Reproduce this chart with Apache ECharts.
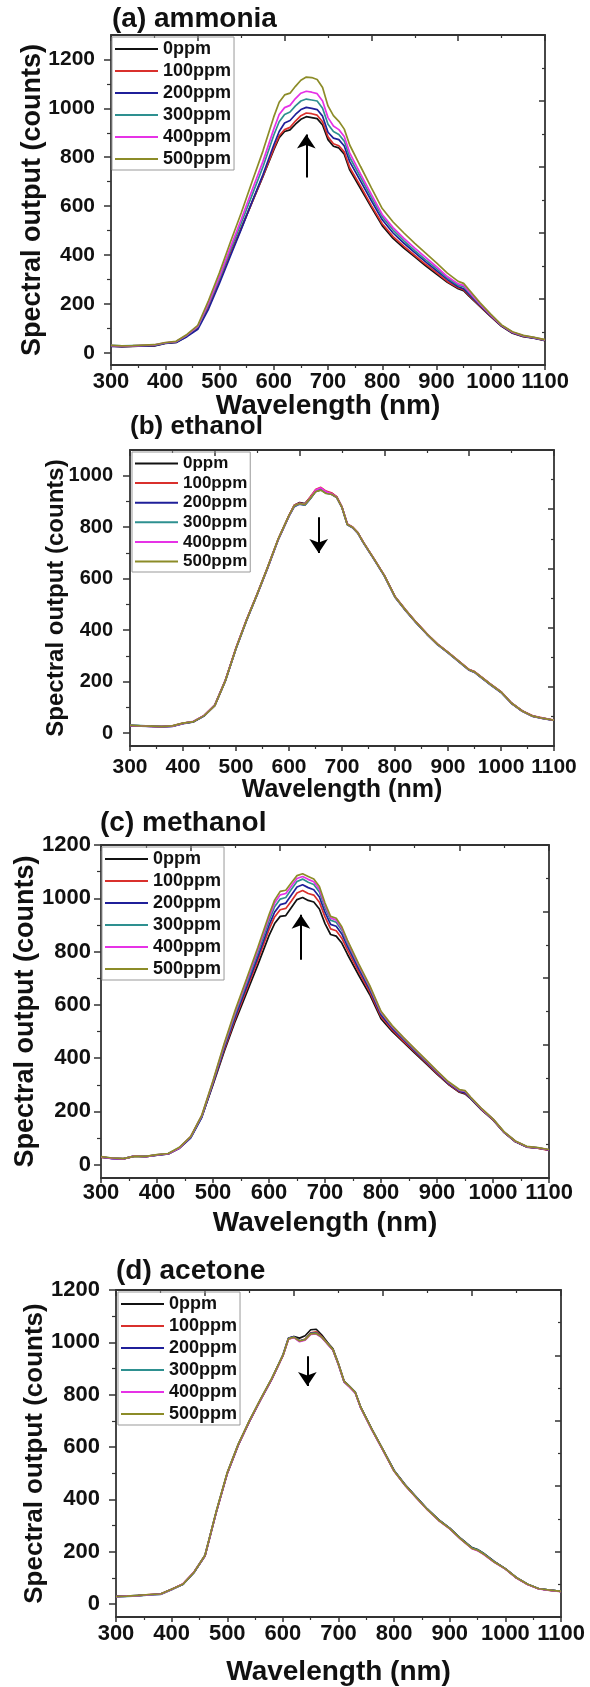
<!DOCTYPE html>
<html>
<head>
<meta charset="utf-8">
<title>Spectral output</title>
<script src="https://cdn.jsdelivr.net/npm/echarts@6/dist/echarts.min.js"></script>
<style>
html, body { margin: 0; padding: 0; background: #fff; }
#chart { width: 590px; height: 1687px; }
</style>
</head>
<body>
<div id="chart"></div>
<script>
// wavelength grid (nm), shared by every panel
var wavelength = [300,320,340,360,380,400,420,440,460,480,500,520,540,560,580,600,610,620,630,640,650,660,670,680,690,700,710,720,730,740,760,780,800,820,840,860,880,900,920,940,950,960,980,1000,1020,1040,1060,1080,1100];
var ppmNames = ["0ppm", "100ppm", "200ppm", "300ppm", "400ppm", "500ppm"];
var ppmColors = ["#111111", "#d9302c", "#1f1f99", "#2e9090", "#e632e6", "#8c8c28"];

// y tick labels
var yMajor1200 = [0, 200, 400, 600, 800, 1000, 1200];
var yMinor1200 = [100, 300, 500, 700, 900, 1100];
var yMajor1000 = [0, 200, 400, 600, 800, 1000];
var yMinor1000 = [100, 300, 500, 700, 900];

// (a) ammonia
var amm0   = [28,25,26,28,28,38,42,68,102,195,300,405,510,615,720,830,880,905,912,935,955,966,962,958,932,872,845,838,812,748,672,595,520,468,428,392,356,322,288,262,254,232,190,148,108,80,66,60,50];
var amm100 = [27,26,27,29,30,40,44,70,104,192,298,402,508,615,722,835,888,913,922,948,970,981,978,972,945,884,855,847,822,758,682,602,528,475,435,398,362,328,292,266,258,236,192,150,110,82,67,61,51];
var amm200 = [26,25,27,28,29,39,42,66,96,180,285,395,505,618,728,850,905,940,950,975,995,1004,1000,995,968,902,878,872,846,782,702,622,544,490,448,410,372,336,300,270,262,240,195,152,110,82,68,60,52];
var amm300 = [30,28,29,30,31,40,45,72,106,200,305,420,530,645,760,890,945,975,985,1010,1030,1038,1034,1030,1000,935,905,893,866,800,718,636,556,502,458,418,380,344,306,276,270,246,198,154,112,84,69,62,52];
var amm400 = [29,27,28,30,32,41,46,73,108,205,312,430,545,665,782,915,975,1003,1012,1040,1062,1070,1066,1060,1030,962,928,913,885,818,732,648,566,512,468,428,390,352,312,282,276,250,200,155,112,84,70,62,53];
var amm500 = [30,28,29,31,33,42,47,75,112,215,328,452,572,700,825,965,1025,1055,1062,1090,1115,1128,1126,1118,1085,1010,970,947,915,850,762,675,590,535,490,448,408,368,326,292,284,258,205,158,114,86,71,63,54];
var arrowAmmonia = [660, 717, 893];

// (b) ethanol
var eth0   = [30,28,26,25,27,38,45,68,108,205,330,440,540,645,755,845,885,896,892,915,942,950,936,932,918,878,812,800,778,742,678,612,530,478,430,386,346,314,280,246,238,222,190,160,116,86,66,57,50];
var eth100 = [29,27,27,26,28,39,44,69,110,206,332,441,541,646,756,846,886,893,890,917,946,955,940,934,919,879,813,801,779,743,679,613,531,479,431,387,347,315,281,247,239,223,191,161,117,87,67,58,51];
var eth200 = [28,27,26,24,26,37,44,67,107,203,328,438,538,643,753,843,880,890,886,910,938,946,933,928,915,876,810,798,776,740,676,610,528,476,428,384,344,312,278,244,236,220,188,158,115,85,65,56,49];
var eth300 = [31,29,27,26,27,38,45,68,109,204,329,439,539,644,754,844,882,891,887,911,939,945,932,929,916,877,811,799,777,741,677,611,529,477,429,385,345,313,279,245,237,221,189,159,116,86,66,57,50];
var eth400 = [29,28,26,25,27,38,46,69,108,205,331,441,540,645,755,845,884,893,889,914,944,953,938,931,917,878,812,800,778,742,678,612,530,478,430,386,346,314,280,246,238,222,190,160,116,86,66,57,50];
var eth500 = [30,28,27,25,28,39,45,68,107,204,330,440,540,646,756,846,884,892,888,912,938,944,931,928,916,877,811,800,778,742,678,612,530,478,430,386,346,314,280,246,238,222,190,160,116,86,66,57,50];
var arrowEthanol = [656, 839, 700];

// (c) methanol
var meth0   = [28,24,22,32,30,36,40,62,102,180,300,425,540,645,750,860,905,932,935,965,995,1003,992,986,960,905,864,858,832,790,712,638,548,500,460,420,380,340,302,272,266,248,205,168,120,86,66,62,55];
var meth100 = [27,25,23,31,31,37,41,63,104,182,305,432,550,658,768,882,930,957,962,990,1020,1029,1018,1012,985,930,885,878,850,806,725,648,556,506,464,424,384,343,304,274,268,250,206,169,121,87,67,62,54];
var meth200 = [29,23,22,33,30,36,40,62,100,178,305,438,558,668,780,898,948,976,982,1012,1042,1051,1040,1032,1005,948,902,895,866,820,736,657,563,512,470,428,388,346,306,276,270,250,207,170,121,87,67,63,55];
var meth300 = [28,25,23,32,31,37,42,64,103,182,310,445,568,680,795,915,968,997,1003,1034,1063,1072,1060,1052,1024,965,918,910,880,832,746,664,570,517,474,432,391,349,309,279,275,252,208,171,122,88,68,63,56];
var meth400 = [29,24,22,33,30,37,41,63,104,184,312,450,575,690,806,928,982,1013,1018,1046,1074,1082,1071,1062,1034,974,926,918,887,838,750,668,573,519,476,434,392,350,310,280,276,253,209,171,122,88,68,63,56];
var meth500 = [30,25,23,32,31,38,42,65,105,186,315,455,582,698,815,938,993,1026,1030,1058,1085,1092,1082,1072,1044,982,932,925,893,843,755,672,576,522,478,436,394,352,312,282,278,254,210,172,123,89,69,64,57];
var arrowMethanol = [657, 769, 938];

// (d) acetone
var ace0   = [28,30,32,35,37,55,75,120,185,350,500,610,700,782,860,950,1015,1022,1016,1025,1048,1050,1028,1000,975,918,852,832,810,752,668,590,510,455,408,362,322,290,250,215,208,195,162,135,100,75,58,53,48];
var ace100 = [29,31,32,36,38,56,76,121,183,348,498,608,698,780,858,948,1012,1020,1005,1012,1036,1040,1022,996,972,915,850,830,808,750,666,588,508,453,406,360,320,288,248,212,205,192,160,134,99,74,58,52,48];
var ace200 = [30,30,33,35,38,56,74,119,184,349,499,609,699,781,859,950,1016,1022,1006,1010,1034,1036,1020,996,971,914,849,830,808,750,666,588,509,454,407,361,321,289,249,213,206,193,161,134,100,75,58,53,48];
var ace300 = [27,29,31,34,36,54,75,120,186,351,501,611,701,783,861,951,1014,1019,1004,1011,1033,1035,1019,995,972,915,850,831,809,751,667,589,509,454,407,361,321,289,249,214,207,194,161,134,100,75,58,53,48];
var ace400 = [28,30,32,35,37,55,76,121,185,350,500,610,700,782,860,949,1013,1018,1002,1008,1030,1032,1018,994,970,914,849,829,807,749,665,587,507,452,405,359,319,287,247,211,203,191,159,133,99,74,57,52,47];
var ace500 = [29,30,33,36,38,56,75,120,186,352,502,612,702,784,862,950,1014,1020,1005,1010,1032,1034,1020,996,972,916,851,831,809,751,667,589,508,453,406,360,320,288,248,212,205,192,160,134,100,75,58,53,48];
var arrowAcetone = [644, 947, 833];

var FONT = "'Liberation Sans', Arial, sans-serif";
var INK = "#111";
var AXIS = "#333";

var panels = [
  { title: "(a) ammonia", series: [amm0, amm100, amm200, amm300, amm400, amm500], arrow: arrowAmmonia,
    yMax: 1300, yMajor: yMajor1200, yMinor: yMinor1200,
    grid: { left: 111, top: 35, width: 434, height: 330 },
    titlePos: [112, 5], titleSize: 28,
    yNameGap: 65, yNameSize: 27, yLabelSize: 21, yLabelMargin: 16,
    xNameGap: 27, xNameSize: 28, xLabelSize: 22, xLabelMargin: 6,
    legendPos: [112, 37], legendSize: 18, legendLine: 18, legendGap: 4 },
  { title: "(b) ethanol", series: [eth0, eth100, eth200, eth300, eth400, eth500], arrow: arrowEthanol,
    yMax: 1100, yMajor: yMajor1000, yMinor: yMinor1000,
    grid: { left: 130, top: 450, width: 424, height: 296 },
    titlePos: [130, 414], titleSize: 26,
    yNameGap: 62, yNameSize: 24, yLabelSize: 20, yLabelMargin: 17,
    xNameGap: 32, xNameSize: 25, xLabelSize: 21, xLabelMargin: 11,
    legendPos: [132, 452], legendSize: 17, legendLine: 17, legendGap: 2.6 },
  { title: "(c) methanol", series: [meth0, meth100, meth200, meth300, meth400, meth500], arrow: arrowMethanol,
    yMax: 1200, yMajor: yMajor1200, yMinor: yMinor1200,
    grid: { left: 101, top: 845, width: 448, height: 333 },
    titlePos: [100, 809], titleSize: 28,
    yNameGap: 62, yNameSize: 27, yLabelSize: 22, yLabelMargin: 10,
    xNameGap: 31, xNameSize: 28, xLabelSize: 22, xLabelMargin: 4,
    legendPos: [102, 847], legendSize: 18, legendLine: 18, legendGap: 4 },
  { title: "(d) acetone", series: [ace0, ace100, ace200, ace300, ace400, ace500], arrow: arrowAcetone,
    yMax: 1200, yMajor: yMajor1200, yMinor: yMinor1200,
    grid: { left: 116, top: 1290, width: 445, height: 328 },
    titlePos: [116, 1257], titleSize: 28,
    yNameGap: 68, yNameSize: 26, yLabelSize: 22, yLabelMargin: 16,
    xNameGap: 41, xNameSize: 28, xLabelSize: 22, xLabelMargin: 6,
    legendPos: [118, 1292], legendSize: 18, legendLine: 18, legendGap: 4 }
];

function boldText(size) {
  return { fontFamily: FONT, fontWeight: "bold", fontSize: size, color: INK };
}
function plain(v) { return String(v); }

var option = {
  animation: false,
  backgroundColor: "#fff",
  title: [], legend: [], grid: [], xAxis: [], yAxis: [], series: []
};

panels.forEach(function (p, k) {
  option.title.push({ text: p.title, left: p.titlePos[0], top: p.titlePos[1], padding: 0,
    textStyle: boldText(p.titleSize) });
  option.grid.push(p.grid);

  // bottom axis: the data axis
  var xi = option.xAxis.length;
  option.xAxis.push({
    gridIndex: k, type: "value", position: "bottom", min: 300, max: 1100, interval: 100,
    name: "Wavelength (nm)", nameLocation: "middle", nameGap: p.xNameGap, nameMoveOverlap: false,
    nameTextStyle: boldText(p.xNameSize),
    axisLine: { onZero: false, lineStyle: { color: AXIS, width: 1.8 } },
    axisTick: { inside: false, length: 5, lineStyle: { color: AXIS, width: 1.5 } },
    minorTick: { show: true, splitNumber: 2, length: 3, lineStyle: { color: AXIS, width: 1.2 } },
    axisLabel: Object.assign({ margin: p.xLabelMargin, formatter: plain, showMinLabel: true,
      showMaxLabel: true, hideOverlap: false }, boldText(p.xLabelSize)),
    splitLine: { show: false }
  });
  // top frame with inward ticks
  option.xAxis.push({
    gridIndex: k, type: "value", position: "top", min: 0, max: 5, interval: 1,
    axisLine: { onZero: false, lineStyle: { color: AXIS, width: 1.8 } },
    axisTick: { inside: true, length: 6, lineStyle: { color: AXIS, width: 1.5 } },
    minorTick: { show: true, splitNumber: 2, length: 3, lineStyle: { color: AXIS, width: 1.2 } },
    axisLabel: { show: false }, splitLine: { show: false }
  });

  var yi = option.yAxis.length;
  option.yAxis.push({
    gridIndex: k, type: "value", position: "left", min: -50, max: p.yMax,
    name: "Spectral output (counts)", nameLocation: "middle", nameGap: p.yNameGap, nameMoveOverlap: false,
    nameTextStyle: boldText(p.yNameSize),
    axisLine: { onZero: false, lineStyle: { color: AXIS, width: 1.8 } },
    axisTick: { inside: false, length: 7, customValues: p.yMajor, lineStyle: { color: AXIS, width: 1.5 } },
    axisLabel: Object.assign({ margin: p.yLabelMargin, customValues: p.yMajor, formatter: plain,
      hideOverlap: false }, boldText(p.yLabelSize)),
    splitLine: { show: false }
  });
  // minor ticks on the left side
  option.yAxis.push({
    gridIndex: k, type: "value", position: "left", min: -50, max: p.yMax,
    axisLine: { show: false, onZero: false },
    axisTick: { inside: false, length: 4, customValues: p.yMinor, lineStyle: { color: AXIS, width: 1.2 } },
    axisLabel: { show: false }, splitLine: { show: false }
  });
  // right frame with inward ticks
  option.yAxis.push({
    gridIndex: k, type: "value", position: "right", min: 0, max: 5, interval: 1,
    axisLine: { onZero: false, lineStyle: { color: AXIS, width: 1.8 } },
    axisTick: { inside: true, length: 6, lineStyle: { color: AXIS, width: 1.5 } },
    minorTick: { show: true, splitNumber: 2, length: 3, lineStyle: { color: AXIS, width: 1.2 } },
    axisLabel: { show: false }, splitLine: { show: false }
  });

  option.legend.push({
    orient: "vertical", left: p.legendPos[0], top: p.legendPos[1],
    data: ppmNames, selectedMode: false, icon: "rect",
    itemWidth: 43, itemHeight: 2, itemGap: p.legendGap,
    padding: [3, 3, 2, 3], borderColor: "#999", borderWidth: 1,
    textStyle: Object.assign({ lineHeight: p.legendLine }, boldText(p.legendSize))
  });

  p.series.forEach(function (vals, s) {
    var item = {
      type: "line", name: ppmNames[s], xAxisIndex: xi, yAxisIndex: yi,
      symbol: "none", color: ppmColors[s],
      lineStyle: { width: 1.7, color: ppmColors[s] },
      data: wavelength.map(function (w, i) { return [w, vals[i]]; })
    };
    if (s === 0) {
      item.markLine = {
        silent: true, symbol: ["none", "arrow"], symbolSize: 14,
        lineStyle: { color: "#000", width: 2, type: "solid" },
        label: { show: false },
        data: [[{ coord: [p.arrow[0], p.arrow[1]] }, { coord: [p.arrow[0], p.arrow[2]] }]]
      };
    }
    option.series.push(item);
  });
});

var chart = echarts.init(document.getElementById("chart"));
chart.setOption(option);
</script>
</body>
</html>
